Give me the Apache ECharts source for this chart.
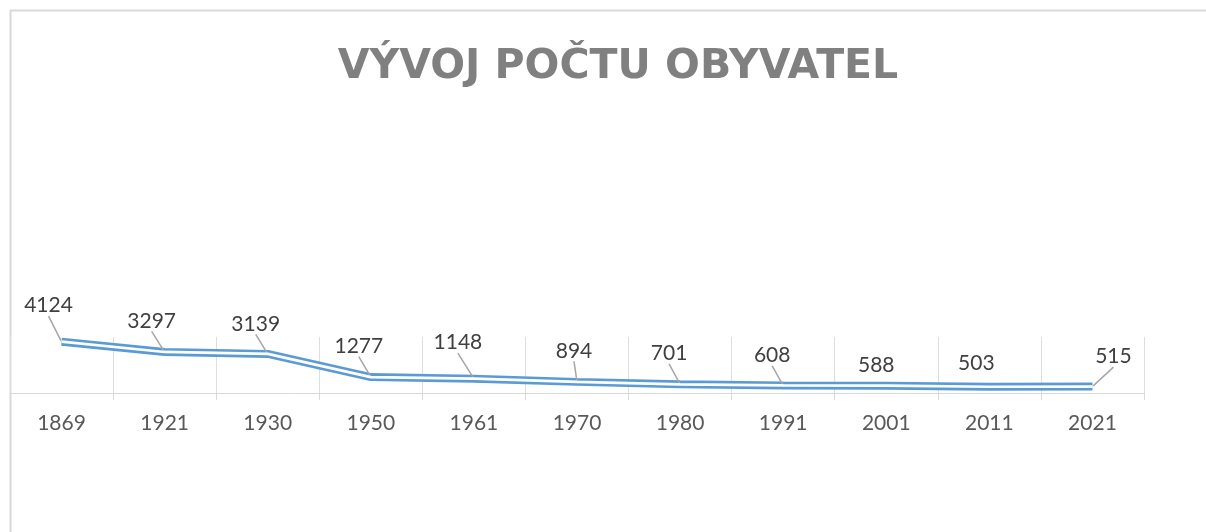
<!DOCTYPE html>
<html>
<head>
<meta charset="utf-8">
<title>Vývoj počtu obyvatel</title>
<script src="https://cdn.jsdelivr.net/npm/echarts@6/dist/echarts.min.js"></script>
<style>
  html, body { margin: 0; padding: 0; background: #fff; }
  #main { width: 1206px; height: 532px; }
</style>
</head>
<body>
<div id="main"></div>
<script>
const years = ['1869', '1921', '1930', '1950', '1961', '1970', '1980', '1991', '2001', '2011', '2021'];
const population = [4124, 3297, 3139, 1277, 1148, 894, 701, 608, 588, 503, 515];

// posun popisku od bodu (px)
const labelShift = [[-13, -36], [-13, -31], [-12, -30], [-12, -31], [-16, -36], [-3, -31],
  [-11, -31], [-11, -30], [-10, -20], [-13, -24], [21, -30]];
const noLeader = [8, 9];

const chart = echarts.init(document.getElementById('main'));

const blueData = population.map((v, i) => {
  if (noLeader.indexOf(i) >= 0) {
    return { value: v, labelLine: { show: false } };
  }
  return v;
});

const option = {
  animation: false,
  title: {
    text: 'VÝVOJ POČTU OBYVATEL',
    left: 613,
    textAlign: 'center',
    top: 42,
    textStyle: {
      color: '#808080',
      fontFamily: 'DejaVu Sans',
      fontWeight: 'bold',
      fontSize: 41
    }
  },
  graphic: [
    {
      type: 'rect',
      shape: { x: 10.5, y: 10.5, width: 1220, height: 540 },
      style: { fill: 'none', stroke: '#d9d9d9', lineWidth: 2 },
      silent: true
    }
  ],
  grid: {
    left: 10,
    right: 62,
    top: 337,
    bottom: 139
  },
  xAxis: {
    type: 'category',
    data: years,
    boundaryGap: true,
    axisLine: { lineStyle: { color: '#d9d9d9', width: 1 } },
    axisTick: { show: true, length: 7, lineStyle: { color: '#d9d9d9' } },
    splitLine: { show: true, lineStyle: { color: '#dedede', width: 1 } },
    axisLabel: {
      color: '#595959',
      fontFamily: 'Lato',
      fontSize: 21,
      margin: 20
    }
  },
  yAxis: {
    type: 'value',
    min: 0,
    max: 4500,
    show: false,
    splitLine: { show: false }
  },
  series: [
    {
      name: 'obyvatel',
      type: 'line',
      data: blueData,
      symbol: 'circle',
      symbolSize: 2,
      itemStyle: { color: 'transparent' },
      lineStyle: { color: '#5b9bd5', width: 8 },
      z: 2,
      label: {
        show: true,
        color: '#404040',
        fontFamily: 'Lato',
        fontSize: 21
      },
      labelLine: {
        show: true,
        lineStyle: { color: '#a6a6a6', width: 1.5 }
      },
      labelLayout: function (params) {
        const s = labelShift[params.dataIndex];
        const cx = params.rect.x + params.rect.width / 2;
        const cy = params.rect.y + params.rect.height / 2;
        return {
          x: cx + s[0],
          y: cy + s[1],
          align: 'center',
          verticalAlign: 'middle'
        };
      }
    },
    {
      name: 'vnitrni',
      type: 'line',
      data: population,
      symbol: 'none',
      silent: true,
      lineStyle: { color: '#ffffff', width: 2.7 },
      z: 3
    }
  ]
};

chart.setOption(option);
</script>
</body>
</html>
